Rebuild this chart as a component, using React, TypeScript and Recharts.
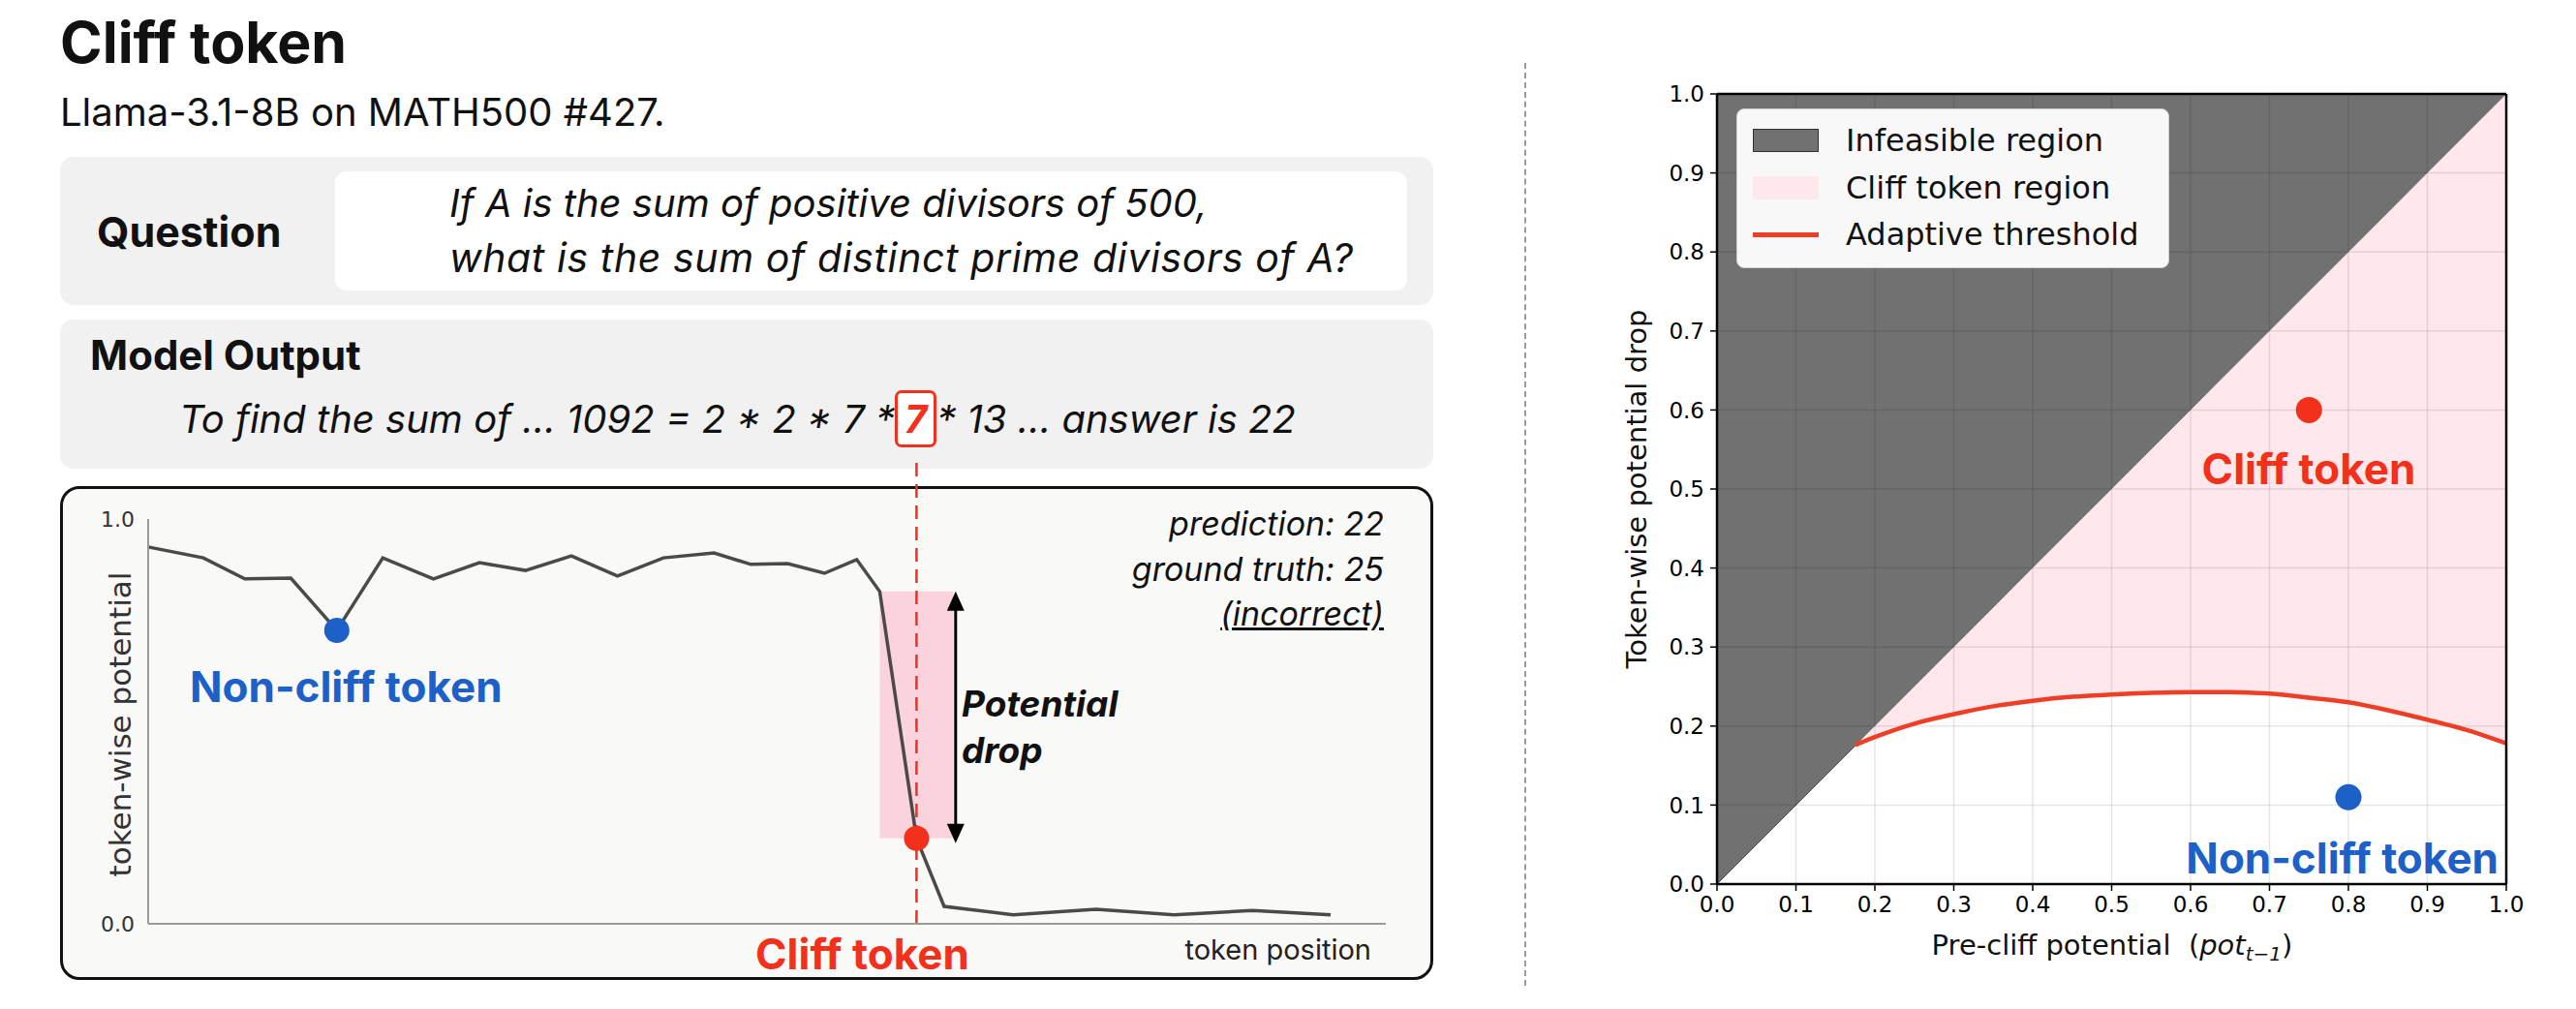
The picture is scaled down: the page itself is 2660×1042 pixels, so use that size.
import React from "react";
import {
  LineChart,
  Line,
  XAxis,
  YAxis,
  ReferenceArea,
  ReferenceDot,
  ReferenceLine,
  ComposedChart,
  Area,
} from "recharts";

// left panel: potential of each generated token
const tokenPos = [
  0, 1.2, 2.1, 3.1, 4.1, 5.1, 6.2, 7.2, 8.2, 9.2, 10.2, 11.2, 12.3, 13.1, 13.9,
  14.7, 15.4, 15.9, 16.7, 17.3, 18.8, 20.6, 22.3, 24.0, 25.7,
];
const tokenPotential = [
  0.931, 0.904, 0.852, 0.854, 0.725, 0.904, 0.852, 0.892, 0.873, 0.909, 0.859,
  0.904, 0.916, 0.888, 0.89, 0.866, 0.9, 0.821, 0.211, 0.043, 0.022, 0.036,
  0.022, 0.033, 0.022,
];
const nonCliffIdx = 4;
const cliffIdx = 18;
const potentialTicks = [0, 1];

// right panel: drop vs. pre-cliff potential
const gridTicks = [0, 0.1, 0.2, 0.3, 0.4, 0.5, 0.6, 0.7, 0.8, 0.9, 1];
const thresholdPre = [
  0.175, 0.2, 0.25, 0.3, 0.35, 0.4, 0.45, 0.5, 0.55, 0.6, 0.65, 0.7, 0.75, 0.8,
  0.85, 0.9, 0.95, 1.0,
];
const thresholdDrop = [
  0.176, 0.186, 0.203, 0.215, 0.225, 0.232, 0.237, 0.24, 0.242, 0.243, 0.243,
  0.241, 0.236, 0.23, 0.22, 0.208, 0.195, 0.178,
];
const cliffPoint = { pre: 0.75, drop: 0.6 };
const nonCliffPoint = { pre: 0.8, drop: 0.11 };

const RED = "#f2301b";
const BLUE = "#1c60c8";
const GRAY_FILL = "#717171";
const PINK_FILL = "#fee8eb";
const THRESH = "#ee3f26";

const lineData = tokenPos.map((pos, i) => ({ pos, potential: tokenPotential[i] }));

const regionRows = [
  { pre: 0, infeasible: [0, 1] },
  ...thresholdPre.map((pre, i) => ({
    pre,
    infeasible: [pre, 1],
    cliffBand: [thresholdDrop[i], pre],
    threshold: thresholdDrop[i],
  })),
];

const arrowHead = (dir: "up" | "down") => (props: any) => {
  const { cx, cy } = props;
  const h = dir === "up" ? 20 : -20;
  return (
    <polygon
      points={`${cx},${cy} ${cx - 9},${cy + h} ${cx + 9},${cy + h}`}
      fill="#000"
    />
  );
};

type TxtProps = {
  x: number;
  y: number;
  size: number;
  anchor?: "start" | "middle" | "end";
  style?: React.CSSProperties;
  children: React.ReactNode;
};

const Txt = ({ x, y, size, anchor = "start", style, children }: TxtProps) => (
  <div
    style={{
      position: "absolute",
      left: anchor === "end" ? undefined : x,
      right: anchor === "end" ? 2660 - x : undefined,
      top: y - size / 2,
      fontSize: size,
      lineHeight: `${size}px`,
      whiteSpace: "nowrap",
      transform: anchor === "middle" ? "translateX(-50%)" : undefined,
      ...style,
    }}
  >
    {children}
  </div>
);

function TokenPotentialChart() {
  const prev = tokenPotential[cliffIdx - 1];
  const cliff = tokenPotential[cliffIdx];
  const arrowX = 17.55;
  return (
    <LineChart
      width={1500}
      height={1042}
      data={lineData}
      margin={{ top: 536, right: 69, bottom: 48, left: 93 }}
    >
      <XAxis
        type="number"
        dataKey="pos"
        domain={[0, 26.9]}
        tick={false}
        tickLine={false}
        height={40}
        axisLine={{ stroke: "#9a9a9a", strokeWidth: 2 }}
      />
      <YAxis
        type="number"
        domain={[0, 1]}
        ticks={potentialTicks}
        width={60}
        tickFormatter={(v) => Number(v).toFixed(1)}
        tickLine={false}
        tickSize={10}
        tickMargin={4}
        axisLine={{ stroke: "#9a9a9a", strokeWidth: 2 }}
        tick={{ fontFamily: "DejaVu Sans", fontSize: 22, fill: "#333" }}
      />
      <ReferenceArea
        x1={tokenPos[cliffIdx - 1]}
        x2={17.5}
        y1={cliff}
        y2={prev}
        fill="#fbd3dc"
        fillOpacity={1}
        stroke="none"
        ifOverflow="visible"
      />
      <ReferenceLine
        segment={[
          { x: tokenPos[cliffIdx], y: 0 },
          { x: tokenPos[cliffIdx], y: 1.146 },
        ]}
        stroke={RED}
        strokeWidth={2.5}
        strokeDasharray="14 8"
        ifOverflow="visible"
      />
      <Line
        type="linear"
        dataKey="potential"
        stroke="#4a4a4a"
        strokeWidth={3.5}
        dot={false}
        activeDot={false}
        isAnimationActive={false}
      />
      <ReferenceLine
        segment={[
          { x: arrowX, y: cliff + 0.03 },
          { x: arrowX, y: prev - 0.03 },
        ]}
        stroke="#000"
        strokeWidth={3}
      />
      <ReferenceDot x={arrowX} y={prev} shape={arrowHead("up")} />
      <ReferenceDot x={arrowX} y={cliff - 0.012} shape={arrowHead("down")} />
      <ReferenceDot
        x={tokenPos[nonCliffIdx]}
        y={tokenPotential[nonCliffIdx]}
        r={13}
        fill={BLUE}
        stroke="none"
      />
      <ReferenceDot
        x={tokenPos[cliffIdx]}
        y={cliff}
        r={13}
        fill={RED}
        stroke="none"
      />
    </LineChart>
  );
}

function RegionChart() {
  const axisTick = { fontFamily: "DejaVu Sans", fontSize: 23, fill: "#000" };
  const inner = gridTicks.slice(1, -1);
  return (
    <ComposedChart
      width={1060}
      height={1042}
      data={regionRows}
      margin={{ top: 97, right: 72, bottom: 79, left: 93 }}
    >
      <XAxis
        type="number"
        dataKey="pre"
        domain={[0, 1]}
        ticks={gridTicks}
        height={50}
        tickFormatter={(v) => Number(v).toFixed(1)}
        tick={axisTick}
        tickSize={7}
        tickMargin={6}
        tickLine={{ stroke: "#000", strokeWidth: 1.5 }}
        axisLine={{ stroke: "#000", strokeWidth: 2.5 }}
      />
      <YAxis
        type="number"
        domain={[0, 1]}
        ticks={gridTicks}
        width={80}
        tickFormatter={(v) => Number(v).toFixed(1)}
        tick={axisTick}
        tickSize={7}
        tickMargin={6}
        tickLine={{ stroke: "#000", strokeWidth: 1.5 }}
        axisLine={{ stroke: "#000", strokeWidth: 2.5 }}
      />
      <Area
        type="linear"
        dataKey="infeasible"
        fill={GRAY_FILL}
        fillOpacity={1}
        stroke="#4d4d4d"
        strokeWidth={1}
        dot={false}
        activeDot={false}
        isAnimationActive={false}
      />
      <Area
        type="linear"
        dataKey="cliffBand"
        fill={PINK_FILL}
        fillOpacity={1}
        stroke="none"
        dot={false}
        activeDot={false}
        isAnimationActive={false}
      />
      {/* light grid drawn over the filled regions */}
      {inner.map((t) => (
        <ReferenceLine key={`gx${t}`} x={t} stroke="rgba(0,0,0,0.1)" strokeWidth={1.5} />
      ))}
      {inner.map((t) => (
        <ReferenceLine key={`gy${t}`} y={t} stroke="rgba(0,0,0,0.1)" strokeWidth={1.5} />
      ))}
      <Line
        type="monotone"
        dataKey="threshold"
        stroke={THRESH}
        strokeWidth={4.5}
        dot={false}
        activeDot={false}
        isAnimationActive={false}
      />
      <ReferenceLine y={1} stroke="#000" strokeWidth={2.5} />
      <ReferenceLine x={1} stroke="#000" strokeWidth={2.5} />
      <ReferenceDot
        x={cliffPoint.pre}
        y={cliffPoint.drop}
        r={13.5}
        fill={RED}
        stroke="none"
      />
      <ReferenceDot
        x={nonCliffPoint.pre}
        y={nonCliffPoint.drop}
        r={13.5}
        fill={BLUE}
        stroke="none"
      />
    </ComposedChart>
  );
}

const legendItems = [
  { label: "Infeasible region", kind: "patch", color: GRAY_FILL, edge: "#333" },
  { label: "Cliff token region", kind: "patch", color: PINK_FILL, edge: PINK_FILL },
  { label: "Adaptive threshold", kind: "line", color: THRESH, edge: THRESH },
];

export default function App() {
  const box: React.CSSProperties = {
    position: "absolute",
    left: 62,
    width: 1418,
    background: "#f1f1f1",
    borderRadius: 14,
  };
  return (
    <div
      style={{
        position: "absolute",
        left: 0,
        top: 0,
        width: 2660,
        height: 1042,
        background: "#fff",
        overflow: "hidden",
        fontFamily: "Inter, 'Noto Sans', sans-serif",
        color: "#111",
      }}
    >
      <Txt x={62} y={43} size={59} style={{ fontWeight: 700 }}>
        Cliff token
      </Txt>
      <Txt x={62} y={116} size={40}>
        Llama-3.1-8B on MATH500 #427.
      </Txt>

      <div style={{ ...box, top: 162, height: 153 }} />
      <div
        style={{
          position: "absolute",
          left: 346,
          top: 177,
          width: 1107,
          height: 123,
          background: "#fff",
          borderRadius: 12,
        }}
      />
      <Txt x={100} y={239} size={43} style={{ fontWeight: 700 }}>
        Question
      </Txt>
      <Txt x={464} y={210} size={40} style={{ fontStyle: "italic" }}>
        If A is the sum of positive divisors of 500,
      </Txt>
      <Txt x={464} y={266} size={41} style={{ fontStyle: "italic", letterSpacing: 0.6 }}>
        what is the sum of distinct prime divisors of A?
      </Txt>

      <div style={{ ...box, top: 330, height: 154 }} />
      <Txt x={93} y={367} size={42} style={{ fontWeight: 700 }}>
        Model Output
      </Txt>
      <div
        style={{
          position: "absolute",
          left: 185,
          top: 403,
          height: 59,
          display: "flex",
          alignItems: "center",
          fontSize: 40,
          fontStyle: "italic",
          whiteSpace: "pre",
        }}
      >
        <span>To find the sum of ... 1092 = 2 * 2 * 7 *</span>
        <span
          style={{
            display: "inline-flex",
            alignItems: "center",
            justifyContent: "center",
            width: 37,
            height: 53,
            border: `3px solid ${RED}`,
            borderRadius: 7,
            background: "#fff",
            color: RED,
            fontWeight: 700,
          }}
        >
          7
        </span>
        <span>* 13 ... answer is 22</span>
      </div>

      <div
        style={{
          position: "absolute",
          left: 62,
          top: 502,
          width: 1412,
          height: 504,
          border: "3px solid #111",
          borderRadius: 20,
          background: "#f9f9f7",
        }}
      />

      <div
        style={{
          position: "absolute",
          left: 1574,
          top: 65,
          height: 953,
          borderLeft: "2px dashed #9a9a9a",
        }}
      />

      <div style={{ position: "absolute", left: 0, top: 0 }}>
        <TokenPotentialChart />
      </div>
      <div style={{ position: "absolute", left: 1600, top: 0 }}>
        <RegionChart />
      </div>

      {/* left panel annotations */}
      <div
        style={{
          position: "absolute",
          left: 124,
          top: 748,
          transform: "translate(-50%, -50%) rotate(-90deg)",
          fontFamily: "DejaVu Sans",
          fontSize: 31,
          color: "#333",
          whiteSpace: "nowrap",
        }}
      >
        token-wise potential
      </div>
      <Txt x={1429} y={541} size={34} anchor="end" style={{ fontStyle: "italic" }}>
        prediction: 22
      </Txt>
      <Txt x={1429} y={588} size={34} anchor="end" style={{ fontStyle: "italic" }}>
        ground truth: 25
      </Txt>
      <Txt
        x={1429}
        y={634}
        size={34}
        anchor="end"
        style={{ fontStyle: "italic", textDecoration: "underline" }}
      >
        (incorrect)
      </Txt>
      <Txt x={993} y={726} size={37} style={{ fontStyle: "italic", fontWeight: 700 }}>
        Potential
      </Txt>
      <Txt x={993} y={774} size={37} style={{ fontStyle: "italic", fontWeight: 700 }}>
        drop
      </Txt>
      <Txt x={196} y={709} size={44} style={{ fontWeight: 700, color: BLUE }}>
        Non-cliff token
      </Txt>
      <Txt x={780} y={985} size={44} style={{ fontWeight: 700, color: RED }}>
        Cliff token
      </Txt>
      <Txt x={1416} y={980} size={29} anchor="end" style={{ color: "#222" }}>
        token position
      </Txt>

      {/* right panel annotations */}
      <div
        style={{
          position: "absolute",
          left: 1690,
          top: 505,
          transform: "translate(-50%, -50%) rotate(-90deg)",
          fontFamily: "DejaVu Sans",
          fontSize: 29,
          color: "#111",
          whiteSpace: "nowrap",
        }}
      >
        Token-wise potential drop
      </div>
      <div
        style={{
          position: "absolute",
          left: 2181,
          top: 978,
          transform: "translate(-50%, -50%)",
          fontFamily: "DejaVu Sans",
          fontSize: 29,
          color: "#111",
          whiteSpace: "pre",
        }}
      >
        Pre-cliff potential  (<i>pot</i>
        <sub style={{ fontSize: 20, fontStyle: "italic" }}>t−1</sub>)
      </div>
      <Txt x={2384} y={484} size={44} anchor="middle" style={{ fontWeight: 700, color: RED }}>
        Cliff token
      </Txt>
      <Txt x={2580} y={886} size={44} anchor="end" style={{ fontWeight: 700, color: BLUE }}>
        Non-cliff token
      </Txt>

      <div
        style={{
          position: "absolute",
          left: 1793,
          top: 112,
          width: 447,
          height: 165,
          boxSizing: "border-box",
          background: "rgba(255,255,255,0.95)",
          border: "1.5px solid #d0d0d0",
          borderRadius: 8,
          fontFamily: "DejaVu Sans",
          fontSize: 32,
          color: "#111",
        }}
      >
        {legendItems.map((it, i) => (
          <div
            key={it.label}
            style={{
              position: "absolute",
              left: 16,
              top: 32 + i * 48.5 - 16,
              height: 32,
              display: "flex",
              alignItems: "center",
              whiteSpace: "nowrap",
            }}
          >
            {it.kind === "patch" ? (
              <div
                style={{
                  width: 68,
                  height: 24,
                  boxSizing: "border-box",
                  background: it.color,
                  border: `1.5px solid ${it.edge}`,
                }}
              />
            ) : (
              <div style={{ width: 68, height: 5, background: it.color }} />
            )}
            <span style={{ marginLeft: 28 }}>{it.label}</span>
          </div>
        ))}
      </div>
    </div>
  );
}
